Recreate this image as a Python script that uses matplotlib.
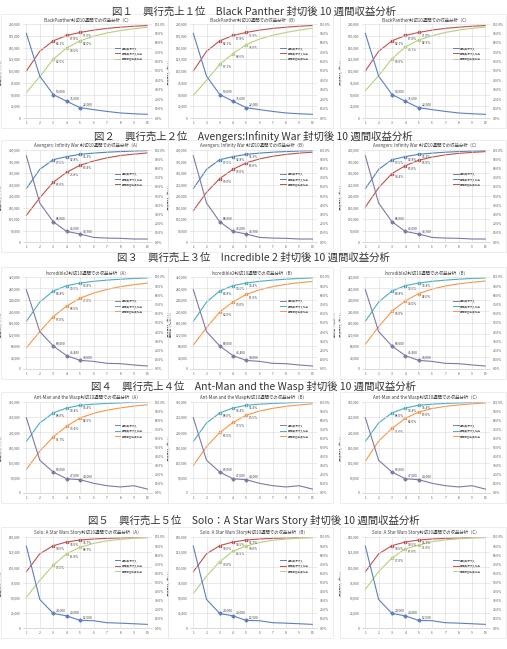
import matplotlib
matplotlib.use("Agg")
import matplotlib.pyplot as plt
from matplotlib.ticker import FuncFormatter, MultipleLocator
from matplotlib.lines import Line2D
from matplotlib.patches import Rectangle

plt.rcParams['font.family'] = ['Noto Sans CJK JP', 'DejaVu Sans']

# ---- データ ----
weeks = [1, 2, 3, 4, 5, 6, 7, 8, 9, 10]

headings = [
    "図１　興行売上１位　Black Panther 封切後 10 週間収益分析",
    "図２　興行売上２位　Avengers:Infinity War 封切後 10 週間収益分析",
    "図３　興行売上３位　Incredible 2 封切後 10 週間収益分析",
    "図４　興行売上４位　Ant-Man and the Wasp 封切後 10 週間収益分析",
    "図５　興行売上５位　Solo：A Star Wars Story 封切後 10 週間収益分析",
]
chart_names = ["BlackPanther", "Avengers: Infinity War ", "Incredible2",
               "Ant-Man and the Wasp", "Solo: A Star Wars Story"]
chart_tags = [["C", "B", "C"], ["A", "B", "C"], ["A", "B", "B"],
              ["A", "B", "C"], ["A", "B", "C"]]
legend_labels = ["週別興行収入", "累積興行収入比率", "累積観客動員比率"]

bp_weekly = [180000, 89000, 50000, 35600, 22000, 17800, 14000, 10700, 9000, 7800]
bp_share = [50.0, 71.0, 82.1, 87.8, 91.0, 93.5, 95.3, 96.6, 97.6, 98.4]
bp_share2_c = [27.0, 44.0, 62.5, 74.6, 82.0, 87.0, 90.5, 93.0, 95.0, 96.5]
bp_share2_b = [24.0, 40.0, 57.1, 68.6, 78.0, 84.0, 88.0, 91.0, 93.5, 95.5]
bp_share2_c2 = [29.0, 45.0, 63.0, 75.7, 82.9, 87.5, 91.0, 93.5, 95.3, 96.8]

av_weekly = [375000, 169000, 88000, 46000, 34700, 20000, 17000, 16000, 13000, 13000]
av_share = [58.0, 79.0, 89.5, 92.8, 95.3, 96.6, 97.6, 98.3, 98.9, 99.3]
av_share2_a = [29.0, 48.0, 65.0, 75.8, 83.4, 88.0, 91.5, 94.0, 95.5, 96.8]
av_share2_b = [34.0, 54.0, 69.0, 79.0, 86.0, 90.3, 93.2, 95.2, 96.6, 97.6]
av_share2_c = [38.0, 59.0, 74.4, 83.0, 88.8, 92.3, 94.7, 96.3, 97.4, 98.2]

in_weekly = [276000, 130000, 80000, 46400, 30000, 26500, 19700, 18500, 14000, 10400]
in_share = [51.8, 72.8, 84.8, 90.6, 93.4, 95.3, 96.6, 97.6, 98.4, 99.0]
in_share2_a = [23.0, 40.6, 57.0, 68.5, 77.0, 82.5, 86.5, 89.5, 91.7, 93.3]
in_share2_b = [26.0, 45.0, 62.0, 73.0, 81.0, 86.0, 89.5, 92.0, 93.8, 95.2]
in_share2_b2 = [27.0, 46.0, 63.0, 74.0, 82.0, 86.8, 90.2, 92.6, 94.3, 95.6]

am_weekly = [248000, 108000, 69000, 47000, 44000, 32000, 24000, 20000, 24000, 13000]
am_share = [56.6, 77.0, 88.0, 93.4, 96.4, 97.6, 98.4, 99.0, 99.6, 100.0]
am_share2_a = [26.0, 46.0, 61.7, 73.4, 82.5, 87.5, 91.0, 93.5, 95.5, 97.0]
am_share2_b = [30.0, 51.0, 66.5, 77.5, 85.5, 90.0, 93.0, 95.2, 96.8, 98.0]
am_share2_c = [35.0, 57.0, 71.0, 82.0, 89.0, 92.8, 95.2, 96.8, 98.0, 98.9]

so_weekly = [135000, 47000, 24000, 20000, 12500, 12000, 8700, 8000, 7000, 6000]
so_share = [61.8, 81.5, 90.5, 94.5, 96.7, 97.8, 98.5, 99.0, 99.5, 99.8]
so_share2_a = [33.8, 52.4, 69.0, 81.8, 88.7, 93.0, 95.8, 97.4, 98.5, 99.2]
so_share2_b = [38.0, 57.0, 73.0, 84.5, 90.0, 94.0, 96.3, 97.7, 98.6, 99.2]
so_share2_c = [42.5, 62.0, 77.0, 87.0, 91.0, 94.8, 96.8, 98.0, 98.8, 99.3]

y_max = [200000, 400000, 320000, 300000, 150000]
y_step = [25000, 50000, 40000, 50000, 25000]

# ---- 配色 ----
BLUE = "#5B7FC4"
PURPLE = "#7E7AA6"
BLUE2 = "#4F81BD"
RED = "#C0504D"
GREEN = "#B5CF7A"
TEAL = "#4BACC6"
ORANGE = "#F79646"
row_colors = [(BLUE, RED, GREEN), (PURPLE, BLUE2, RED), (PURPLE, TEAL, ORANGE),
              (PURPLE, TEAL, ORANGE), (BLUE, RED, GREEN)]

movies = [
    (bp_weekly, bp_share, [bp_share2_c, bp_share2_b, bp_share2_c2]),
    (av_weekly, av_share, [av_share2_a, av_share2_b, av_share2_c]),
    (in_weekly, in_share, [in_share2_a, in_share2_b, in_share2_b2]),
    (am_weekly, am_share, [am_share2_a, am_share2_b, am_share2_c]),
    (so_weekly, so_share, [so_share2_a, so_share2_b, so_share2_c]),
]

W, H = 507, 649
fig = plt.figure(figsize=(W / 100, H / 100), dpi=100)
fig.patch.set_facecolor("white")


def box(x0, y0, x1, y1):
    return [x0 / W, 1 - y1 / H, (x1 - x0) / W, (y1 - y0) / H]


col_x = [(23, 152), (190, 317), (362, 490)]
row_y = [(24, 118), (150, 242), (277, 369), (402, 493), (537, 628)]
head_y = [12, 136, 258, 386, 520]
fs_tick = 2.3


def draw_chart(px, py, title, weekly, share, share2, ymax, ystep, colors, right_label):
    c_week, c_s1, c_s2 = colors
    # 枠線
    fig.patches.append(Rectangle(((px[0] - 22) / W, 1 - (py[1] + 10) / H),
                                 (px[1] - px[0] + 38) / W, (py[1] - py[0] + 20) / H,
                                 transform=fig.transFigure, fill=False,
                                 edgecolor="#e6e6e6", lw=0.5))
    ax = fig.add_axes(box(px[0], py[0], px[1], py[1]))
    ax2 = ax.twinx()
    ax.set_zorder(ax2.get_zorder() + 1)
    ax.patch.set_visible(False)

    ax.plot(weeks, weekly, color=c_week, lw=0.8, marker="D", markersize=1.6,
            markevery=[2, 3, 4])
    ax2.plot(weeks, [v / 100 for v in share], color=c_s1, lw=0.8, marker="s",
             markersize=1.8, markevery=[2, 3, 4])
    ax2.plot(weeks, [v / 100 for v in share2], color=c_s2, lw=0.8, marker="s",
             markersize=1.8, markevery=[2, 3, 4])

    for i in [2, 3, 4]:
        ax.annotate(f"{weekly[i]:,}", (weeks[i], weekly[i]), xytext=(2, 1.5),
                    textcoords="offset points", fontsize=fs_tick, color="#404040")
        ax2.annotate(f"{share[i]:.1f}%", (weeks[i], share[i] / 100), xytext=(2, -3),
                     textcoords="offset points", fontsize=fs_tick, color="#404040")
        ax2.annotate(f"{share2[i]:.1f}%", (weeks[i], share2[i] / 100), xytext=(2, -3),
                     textcoords="offset points", fontsize=fs_tick, color="#404040")

    ax.set_xlim(0.75, 10.35)
    ax.set_ylim(0, ymax)
    ax2.set_ylim(0, 1)
    ax.set_xticks(weeks)
    ax.yaxis.set_major_locator(MultipleLocator(ystep))
    ax2.yaxis.set_major_locator(MultipleLocator(0.1))
    ax.yaxis.set_major_formatter(FuncFormatter(lambda v, p: f"{int(v):,}"))
    ax2.yaxis.set_major_formatter(FuncFormatter(lambda v, p: f"{v * 100:.1f}%"))
    ax.grid(True, color="#d9d9d9", lw=0.4)
    ax.set_axisbelow(True)
    for a in (ax, ax2):
        for s in a.spines.values():
            s.set_visible(False)
        a.tick_params(length=0, labelsize=fs_tick, colors="#595959", pad=2)
    ax.spines["bottom"].set_visible(True)
    ax.spines["bottom"].set_color("#bfbfbf")
    ax.spines["bottom"].set_linewidth(0.4)

    ax.set_title(title, fontsize=3.2, color="#404040", pad=2)
    ax.set_ylabel("週別興行収入（千ドル）", fontsize=1.8, color="#595959")
    ax.yaxis.set_label_coords(-0.15, 0.5)
    if right_label:
        ax2.set_ylabel("累積比率（パーセント）", fontsize=1.8, color="#595959",
                       rotation=90)
        ax2.yaxis.set_label_coords(1.125, 0.5)

    handles = [Line2D([], [], color=c, lw=0.7) for c in colors]
    ax.legend(handles, legend_labels, loc="upper left", bbox_to_anchor=(0.70, 0.78),
              fontsize=1.9, frameon=False, handlelength=2.2, labelspacing=0.5,
              borderpad=0, handletextpad=0.6, labelcolor="#595959")


for r, (weekly, share, share2s) in enumerate(movies):
    fig.text(0.5, 1 - head_y[r] / H, headings[r], ha="center", va="center",
             fontsize=7.5, color="#333333")
    for c in range(3):
        title = f"{chart_names[r]}封切10週間での収益分析（{chart_tags[r][c]}）"
        draw_chart(col_x[c], row_y[r], title, weekly, share, share2s[c],
                   y_max[r], y_step[r], row_colors[r], r == 2 and c < 2)

fig.savefig("out.png", dpi=100, facecolor="white")
